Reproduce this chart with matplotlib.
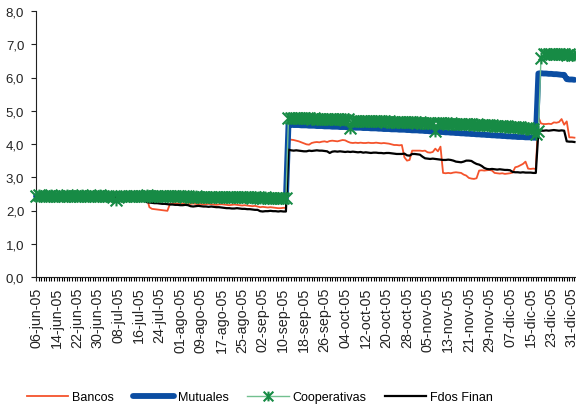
import numpy as np
import pandas as pd
from matplotlib import pyplot as plt
from matplotlib.path import Path

plt.rcParams['font.family'] = ['Liberation Sans', 'DejaVu Sans']
plt.rcParams['font.size'] = 9

# daily series, 06-jun-05 .. 01-ene-06
start_date = '2005-06-06'
n_days = 210
meses = ['ene', 'feb', 'mar', 'abr', 'may', 'jun', 'jul', 'ago', 'sep', 'oct', 'nov', 'dic']

bancos = [
    2.43, 2.43, 2.44, 2.43, 2.43, 2.42, 2.43, 2.43, 2.44, 2.43,
    2.43, 2.43, 2.42, 2.43, 2.43, 2.44, 2.43, 2.43, 2.42, 2.43,
    2.43, 2.43, 2.44, 2.43, 2.42, 2.43, 2.43, 2.43, 2.42, 2.43,
    2.43, 2.42, 2.43, 2.43, 2.43, 2.42, 2.43, 2.43, 2.42, 2.42,
    2.43, 2.42, 2.42, 2.40,
    2.10, 2.05, 2.04, 2.03, 2.02, 2.01, 2.00, 1.99,
    2.20, 2.21, 2.22, 2.21, 2.20, 2.21, 2.20, 2.19,
    2.20, 2.21, 2.20, 2.19, 2.20, 2.18, 2.19, 2.20, 2.19, 2.18,
    2.17, 2.18, 2.19, 2.18, 2.17, 2.16, 2.17, 2.18, 2.17, 2.16,
    2.15, 2.16, 2.15, 2.14, 2.13, 2.14, 2.12, 2.10, 2.11, 2.10,
    2.09, 2.10, 2.09, 2.08, 2.07, 2.07, 2.08, 2.08,
    4.15, 4.13, 4.12, 4.10, 4.08, 4.05, 4.02, 3.99, 3.98, 4.03,
    4.05, 4.06, 4.05, 4.07, 4.08, 4.06, 4.09, 4.10, 4.09, 4.08,
    4.10, 4.12, 4.11, 4.07, 4.04, 4.03, 4.04, 4.03, 4.04, 4.03,
    4.03, 4.04, 4.03, 4.03, 4.04, 4.03, 4.02, 4.03, 4.02, 4.01,
    3.99, 3.97, 3.97, 3.96, 3.97, 3.60, 3.50, 3.52, 3.80, 3.80,
    3.80, 3.80, 3.79, 3.80, 3.75, 3.74, 3.76, 3.86, 3.78, 3.92,
    3.13, 3.12, 3.13, 3.12, 3.14, 3.15, 3.14, 3.13, 3.08, 3.05,
    2.98, 2.96, 2.95, 2.97, 3.20, 3.21, 3.20, 3.21, 3.22, 3.20,
    3.13, 3.12, 3.11, 3.12, 3.10, 3.11, 3.12, 3.14, 3.30, 3.32,
    3.36, 3.40, 3.47, 3.26, 3.25, 3.26, 3.25, 4.80, 4.62, 4.60,
    4.60, 4.61, 4.60, 4.65, 4.64, 4.66, 4.75, 4.58, 4.68, 4.20, 4.20, 4.19,
]

mutuales = [
    2.43, 2.43, 2.43, 2.44, 2.43, 2.43, 2.43, 2.42, 2.43, 2.43,
    2.43, 2.43, 2.44, 2.43, 2.43, 2.43, 2.42, 2.43, 2.43, 2.43,
    2.43, 2.43, 2.43, 2.42, 2.43, 2.43, 2.43, 2.43, 2.42, 2.43,
    2.43, 2.43, 2.42, 2.43, 2.43, 2.43, 2.42, 2.43, 2.43, 2.42,
    2.43, 2.42, 2.43, 2.42, 2.42, 2.43, 2.42, 2.42, 2.42, 2.42,
    2.42, 2.42, 2.41, 2.42, 2.42, 2.41, 2.42, 2.41, 2.41, 2.41,
    2.41, 2.41, 2.40, 2.41, 2.40, 2.40, 2.41, 2.40, 2.40, 2.40,
    2.40, 2.39, 2.40, 2.39, 2.39, 2.40, 2.39, 2.39, 2.39, 2.38,
    2.39, 2.38, 2.38, 2.38, 2.38, 2.37, 2.38, 2.37, 2.37, 2.37,
    2.37, 2.36, 2.37, 2.36, 2.36, 2.36, 2.36, 2.36,
    4.58, 4.58, 4.57, 4.57, 4.57, 4.56, 4.56, 4.56, 4.55, 4.55,
    4.55, 4.54, 4.54, 4.54, 4.53, 4.53, 4.53, 4.52, 4.52, 4.52,
    4.51, 4.51, 4.51, 4.50, 4.50, 4.50, 4.49, 4.49, 4.49, 4.48,
    4.48, 4.48, 4.47, 4.47, 4.47, 4.46, 4.46, 4.45, 4.45, 4.45,
    4.44, 4.44, 4.44, 4.43, 4.43, 4.43, 4.42, 4.42, 4.41, 4.41,
    4.41, 4.40, 4.40, 4.39, 4.39, 4.38, 4.38, 4.37, 4.37, 4.36,
    4.36, 4.35, 4.35, 4.34, 4.34, 4.33, 4.33, 4.32, 4.32, 4.31,
    4.31, 4.30, 4.30, 4.29, 4.29, 4.28, 4.28, 4.27, 4.27, 4.26,
    4.26, 4.25, 4.25, 4.24, 4.24, 4.23, 4.23, 4.22, 4.22, 4.21,
    4.21, 4.21, 4.20, 4.20, 4.20, 4.19, 4.19,
    6.12, 6.13, 6.12, 6.12, 6.11, 6.11, 6.10, 6.10, 6.09, 6.08, 6.08,
    5.95, 5.94, 5.94, 5.93,
]

cooperativas = [
    2.45, 2.46, 2.45, 2.45, 2.44, 2.45, 2.46, 2.45, 2.45, 2.44,
    2.45, 2.45, 2.46, 2.45, 2.45, 2.44, 2.45, 2.45, 2.46, 2.45,
    2.45, 2.44, 2.45, 2.45, 2.45, 2.46, 2.45, 2.44, 2.44, 2.45,
    2.42, 2.33, 2.42, 2.44, 2.45, 2.45, 2.44, 2.45, 2.45, 2.45,
    2.44, 2.45, 2.45, 2.46, 2.45, 2.45, 2.44, 2.45, 2.45, 2.45,
    2.44, 2.45, 2.45, 2.44, 2.43, 2.44, 2.43, 2.43, 2.42, 2.43,
    2.42, 2.42, 2.43, 2.42, 2.42, 2.41, 2.42, 2.41, 2.42, 2.42,
    2.41, 2.41, 2.42, 2.41, 2.41, 2.40, 2.41, 2.41, 2.40, 2.41,
    2.40, 2.40, 2.41, 2.40, 2.39, 2.40, 2.40, 2.39, 2.39, 2.40,
    2.39, 2.38, 2.39, 2.38, 2.38, 2.39, 2.38, 2.37,
    4.78, 4.79, 4.78, 4.78, 4.77, 4.78, 4.78, 4.77, 4.77, 4.76,
    4.77, 4.76, 4.76, 4.76, 4.75, 4.76, 4.75, 4.75, 4.74, 4.75,
    4.74, 4.74, 4.73, 4.74, 4.48, 4.70, 4.69, 4.70, 4.69, 4.70,
    4.69, 4.69, 4.70, 4.69, 4.68, 4.69, 4.68, 4.68, 4.67, 4.68,
    4.67, 4.67, 4.66, 4.67, 4.66, 4.66, 4.65, 4.66, 4.65, 4.65,
    4.64, 4.65, 4.64, 4.64, 4.63, 4.64, 4.63, 4.40, 4.63, 4.62,
    4.62, 4.62, 4.61, 4.62, 4.61, 4.61, 4.60, 4.61, 4.60, 4.60,
    4.59, 4.59, 4.58, 4.59, 4.58, 4.58, 4.57, 4.56, 4.57, 4.56,
    4.55, 4.55, 4.54, 4.54, 4.53, 4.53, 4.52, 4.51, 4.51, 4.50,
    4.50, 4.49, 4.48, 4.47, 4.46, 4.45, 4.30, 4.38, 6.58, 6.70,
    6.72, 6.71, 6.72, 6.71, 6.70, 6.71, 6.70, 6.70, 6.69, 6.70, 6.69, 6.68,
]

fdos_finan = [
    2.42, 2.42, 2.43, 2.42, 2.42, 2.41, 2.42, 2.42, 2.43, 2.42,
    2.42, 2.42, 2.41, 2.42, 2.42, 2.43, 2.42, 2.42, 2.41, 2.42,
    2.42, 2.42, 2.43, 2.42, 2.41, 2.42, 2.42, 2.42, 2.41, 2.42,
    2.42, 2.41, 2.42, 2.42, 2.42, 2.41, 2.42, 2.42, 2.41, 2.41,
    2.40, 2.38, 2.32,
    2.25, 2.24, 2.23, 2.22, 2.22, 2.21, 2.20, 2.20,
    2.19, 2.18, 2.18, 2.17, 2.17, 2.16, 2.16, 2.17, 2.16, 2.13,
    2.12, 2.13, 2.14, 2.13, 2.12, 2.12, 2.11, 2.12, 2.11, 2.10,
    2.10, 2.09, 2.08, 2.07, 2.07, 2.06, 2.06, 2.07, 2.06, 2.05,
    2.05, 2.04, 2.04, 2.03, 2.02, 2.02, 1.98, 1.97, 1.98, 1.98,
    1.99, 1.98, 1.98, 1.97, 1.98, 1.97, 1.97,
    3.83, 3.81, 3.80, 3.81, 3.80, 3.79, 3.78, 3.78, 3.80, 3.79,
    3.80, 3.81, 3.80, 3.80, 3.79, 3.78, 3.73, 3.77, 3.78, 3.77,
    3.78, 3.77, 3.76, 3.77, 3.76, 3.77, 3.76, 3.75, 3.76, 3.74,
    3.75, 3.74, 3.73, 3.74, 3.74, 3.73, 3.73, 3.72, 3.73, 3.73,
    3.72, 3.71, 3.70, 3.70, 3.70, 3.71, 3.66, 3.65, 3.70, 3.70,
    3.69, 3.68, 3.62, 3.57, 3.56, 3.55, 3.56, 3.55, 3.54, 3.53,
    3.52, 3.52, 3.53, 3.52, 3.50, 3.47, 3.46, 3.45, 3.47, 3.50,
    3.50, 3.49, 3.44, 3.40, 3.38, 3.34, 3.28, 3.25, 3.24, 3.25,
    3.24, 3.23, 3.24, 3.23, 3.22, 3.22, 3.21, 3.16, 3.15, 3.15,
    3.14, 3.15, 3.14, 3.14, 3.14, 3.13, 3.13, 4.38, 4.40, 4.40,
    4.41, 4.40, 4.41, 4.42, 4.41, 4.40, 4.41, 4.40, 4.08, 4.07, 4.07, 4.06,
]


def fecha_es(d):
    return '%02d-%s-%s' % (d.day, meses[d.month - 1], str(d.year)[2:])


fechas = pd.date_range(start_date, periods=n_days, freq='D')
x = np.arange(n_days)

# excel style star: x plus a vertical bar
star = Path([(-1, -1), (1, 1), (-1, 1), (1, -1), (0, -1), (0, 1)],
            [Path.MOVETO, Path.LINETO] * 3)

fig = plt.figure(figsize=(5.76, 4.10), dpi=100)
ax = fig.add_axes([36 / 576, 132 / 410, 540 / 576, 266 / 410])

ax.plot(x, bancos, color='#F4532C', lw=1.3, label='Bancos', zorder=2, clip_on=False)
ax.plot(x, mutuales, color='#0B4DA2', lw=4.2, label='Mutuales', zorder=2,
        solid_capstyle='round', clip_on=False)
ax.plot(x, fdos_finan, color='black', lw=1.6, label='Fdos Finan', zorder=2, clip_on=False)
ax.plot(x, cooperativas, color='#72C08F', lw=1, marker=star, ms=8.5, mew=1.5,
        mec='#178B45', label='Cooperativas', zorder=3, clip_on=False)

ax.set_xlim(0, n_days - 0.4)
ax.set_ylim(0, 8)
ax.set_yticks(np.arange(0, 9, 1))
ax.set_yticklabels([('%.1f' % v).replace('.', ',') for v in np.arange(0, 9, 1)], fontsize=9.5)

lab_idx = x[::8]
ax.set_xticks(lab_idx)
ax.set_xticklabels([fecha_es(fechas[i]) for i in lab_idx], rotation=90, fontsize=10.3)
ax.set_xticks(x, minor=True)
ax.tick_params(axis='x', which='both', direction='out', length=3, width=0.8, pad=4)
ax.tick_params(axis='y', direction='out', length=3.5, width=0.8, pad=5)
ax.tick_params(colors='#222222')

ax.spines['top'].set_visible(False)
ax.spines['right'].set_visible(False)
ax.spines['left'].set_color('#222222')
ax.spines['bottom'].set_color('#222222')

h, l = ax.get_legend_handles_labels()
order = [0, 1, 3, 2]
leg = fig.legend([h[i] for i in order], [l[i] for i in order], ncol=4, frameon=False,
                 loc='center left', bbox_to_anchor=(27 / 576, 12 / 410),
                 handlelength=3.3, handletextpad=0.3, columnspacing=1.5,
                 borderpad=0, borderaxespad=0, fontsize=9)
leg.legend_handles[2].set_markersize(7)

plt.savefig('out.png', dpi=100)
